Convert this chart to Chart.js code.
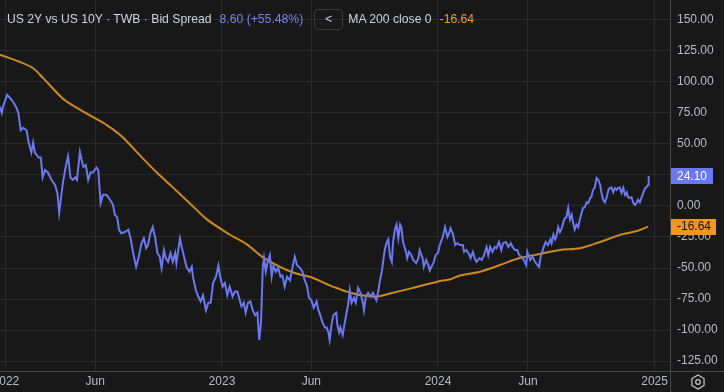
<!DOCTYPE html>
<html>
<head>
<meta charset="utf-8">
<script src="https://cdn.jsdelivr.net/npm/chart.js@4.4.1/dist/chart.umd.min.js"></script>
<style>
  html, body { margin: 0; padding: 0; background: #181818; }
  #wrap { position: relative; width: 724px; height: 392px; }
  #hdr {
    position: absolute; left: 7px; top: 9px; height: 21px; line-height: 21px;
    font-family: "Liberation Sans", Arial, sans-serif; font-size: 12.2px; color: #d1d4dc;
    white-space: nowrap; pointer-events: none;
  }
  #hdr span { display: inline-block; vertical-align: top; }
  #hdr .b { color: #7c84f0; margin-left: 8px; }
  #hdr .btn {
    margin-left: 11px; width: 27px; height: 19px; line-height: 19px; text-align: center;
    border: 1px solid #3a3a3a; border-radius: 4px; color: #d1d4dc; font-size: 12px;
  }
  #hdr .m { margin-left: 5px; }
  #hdr .o { color: #f39c2b; margin-left: 8px; }
</style>
</head>
<body>
<div id="wrap">
  <canvas id="spread_chart" width="724" height="392"></canvas>
  <div id="hdr"><span>US 2Y vs US 10Y · TWB · Bid Spread</span><span class="b">8.60 (+55.48%)</span><span class="btn">&lt;</span><span class="m">MA 200 close 0</span><span class="o">-16.64</span></div>
</div>
<script>
// x values are days counted from 2022-01-01
var tickDays = [0, 151, 365, 516, 730, 882, 1096];
var tickLabels = ["2022", "Jun", "2023", "Jun", "2024", "Jun", "2025"];
var yTicks = [-125, -100, -75, -50, -25, 0, 25, 50, 75, 100, 125, 150];

// spread (bp)
var spreadDays = [
  -10,-7,-5,2,7,12,18,21,25,29,35,38,43,46,49,55,59,62,66,71,77,83,87,90,92,97,
  101,105,109,113,117,120,125,128,131,135,139,143,147,153,156,160,164,170,176,181,184,188,191,195,
  201,207,211,215,220,224,229,233,237,240,244,248,252,256,260,263,267,270,274,278,282,286,288,294,297,
  301,305,310,314,316,321,325,329,333,338,342,346,350,355,359,362,366,370,374,378,383,387,391,394,398,
  402,405,409,413,417,421,425,428,431,434,436,439,443,446,449,452,456,460,464,467,471,475,480,484,488,492,497,
  501,505,509,512,516,520,525,528,531,535,539,542,545,547,550,553,558,560,563,565,569,571,574,578,581,584,588,591,595,599,
  603,605,608,612,616,620,623,626,629,632,635,637,640,643,646,649,652,654,657,660,663,666,668,671,676,678,681,685,688,693,697,699,
  704,706,710,714,716,719,723,726,730,733,738,742,746,749,751,755,759,763,767,772,774,778,783,785,789,792,795,
  800,804,808,812,815,818,822,826,829,833,837,840,845,849,853,856,860,864,867,871,875,879,881,884,886,890,894,898,
  901,903,908,912,916,920,922,925,928,930,933,936,939,942,944,947,950,953,956,958,961,964,967,970,973,975,978,981,984,987,989,992,995,998,
  1001,1004,1006,1009,1012,1015,1018,1020,1023,1026,1029,1032,1034,1037,1040,1043,1046,1049,1051,1054,1057,1060,1063,1066,1068,
  1071,1074,1077,1080,1082,1085,1086
];
var spreadVals = [
  80,75,80,89.5,87,84,79,75,61,63,61,52,43,51,43,39,39,23,29,27,21,17,10.5,-5.6,2.4,21,
  31.5,40,23,21,23,21,43.5,37,31.5,33,21,27,27,31,29,2.4,9,9,5,1,-7,-9,-19,-22,
  -21,-19,-27,-38,-49,-42,-30,-26,-34,-31.5,-22,-17,-25,-38,-41,-50,-35.5,-42,-45,-38,-45,-38,-46,-26,-33,
  -41,-49,-53,-49,-57,-68,-73,-77,-72,-84,-78,-78,-62,-57,-48,-57,-65,-62,-72,-65,-73,-69,-69,-74,-81,
  -78,-86,-78,-77,-84,-88,-86,-108,-94,-49,-42,-53,-43.5,-39.5,-57,-48,-53,-50,-57,-56,-65,-57,-60,-50,-41,-48,-50,
  -53,-60,-65,-74,-76,-82,-77,-84,-88,-94,-98,-98,-102,-108,-96,-88,-86,-96,-102,-98,-104,-98,-90,-80,-68,-78,-74,-78,-66,-70,
  -78,-84,-73,-70,-73,-70,-73,-76,-69,-60,-53,-46,-35.5,-30,-27,-41,-45,-30,-19,-15,-26,-15,-17,-29,-37,-42,-37,-39.5,-43.5,-46,-42,-35.5,
  -42,-49,-43.5,-48,-52,-49,-45,-39.5,-38,-31.5,-25,-17,-25,-22,-18,-22,-31.5,-30,-31.5,-31.5,-37,-35.5,-39.5,-42,-37,-42,-45,
  -42,-43.5,-39.5,-33,-39.5,-33,-37,-33,-34,-29,-35.5,-30,-29,-33,-30,-33,-35.5,-35.5,-39.5,-41,-43.5,-47.6,-37,-41,-43.5,-41,-45,-47.6,
  -49,-42,-34,-29,-31.5,-27,-30,-23,-27,-25,-17,-21,-18,-13,-10,-9,-1.6,-11,-7,-13,-19,-15,-17,-10,-5,-1.6,-1,3,2.4,6.5,7,13,15,22.6,
  21,17,11,5,3,7,13,14.5,15,11,14.5,13,14.5,15,10.5,14.5,9,11,7,6.5,7,2.4,0.8,3,5,
  3,7,10.5,14.5,15,17,24.1
];

// MA 200 close
var maDays = [-10,24,46,63,95,113,142,171,196,226,255,282,311,340,378,407,433,463,488,519,547,564,576,601,627,654,688,729,751,767,801,835,868,902,936,970,1004,1037,1066,1085];
var maVals = [122,116,111,103,87,81,73,65,56,41,27,15,2,-11,-23,-31,-41,-49,-54,-58,-64,-67,-69,-72,-73,-70,-66,-61,-59,-56,-53,-47.6,-42,-38.7,-35.5,-34,-29,-23.4,-20.2,-16.64];

var lastSpread = "24.10";
var lastMa = "-16.64";

function toPoints(xs, ys) {
  var pts = [];
  for (var i = 0; i < xs.length; i++) pts.push({x: xs[i], y: ys[i]});
  return pts;
}

var BG = "#181818";
var GRID = "#2a2a2a";
var SEP = "#4a4a4a";
var TXT = "#b9bbc2";
var BLUE = "#6b78f2";
var MA_COL = "#cc8a22";
var TAG_ORANGE = "#f5951c";

// x labels, separators, price tags and the settings icon
var decorPlugin = {
  id: "decor",
  beforeDraw: function(chart) {
    var c = chart.ctx;
    c.save();
    c.fillStyle = BG;
    c.fillRect(0, 0, chart.width, chart.height);
    c.restore();
  },
  afterDraw: function(chart) {
    var c = chart.ctx, area = chart.chartArea;
    var xs = chart.scales.x, ys = chart.scales.y;
    c.save();
    // separators
    c.strokeStyle = SEP;
    c.lineWidth = 1;
    c.beginPath();
    c.moveTo(0, Math.round(area.bottom) + 0.5);
    c.lineTo(chart.width, Math.round(area.bottom) + 0.5);
    c.moveTo(Math.round(area.right) + 0.5, 0);
    c.lineTo(Math.round(area.right) + 0.5, chart.height);
    c.stroke();
    // time labels
    c.font = "12px 'Liberation Sans', Arial, sans-serif";
    c.fillStyle = TXT;
    c.textAlign = "center";
    c.textBaseline = "middle";
    for (var i = 0; i < tickDays.length; i++) {
      c.fillText(tickLabels[i], xs.getPixelForValue(tickDays[i]), area.bottom + 11);
    }
    // price tags
    function tag(val, txt, bg, fg, w) {
      var y = ys.getPixelForValue(val);
      c.fillStyle = bg;
      c.fillRect(area.right + 1, Math.round(y - 8), w, 16);
      c.fillStyle = fg;
      c.textAlign = "left";
      c.fillText(txt, area.right + 7, y + 0.5);
    }
    tag(parseFloat(lastMa), lastMa, TAG_ORANGE, "#151515", 45);
    tag(parseFloat(lastSpread), lastSpread, BLUE, "#ffffff", 42);
    // settings icon
    var cx = area.right + 28, cy = area.bottom + 11;
    c.strokeStyle = "#c8c8c8";
    c.lineWidth = 1.2;
    c.beginPath();
    for (var k = 0; k < 6; k++) {
      var a = Math.PI / 3 * k + Math.PI / 6;
      var px = cx + 7 * Math.cos(a), py = cy + 7 * Math.sin(a);
      if (k === 0) c.moveTo(px, py); else c.lineTo(px, py);
    }
    c.closePath();
    c.stroke();
    c.beginPath();
    c.arc(cx, cy, 2.3, 0, Math.PI * 2);
    c.stroke();
    c.restore();
  }
};

var ctx = document.getElementById("spread_chart");
var chart = new Chart(ctx, {
  type: "line",
  data: {
    datasets: [
      {
        label: "US 2Y vs US 10Y",
        data: toPoints(spreadDays, spreadVals),
        borderColor: BLUE,
        borderWidth: 2,
        pointRadius: 0,
        tension: 0,
        fill: false
      },
      {
        label: "MA 200 close 0",
        data: toPoints(maDays, maVals),
        borderColor: MA_COL,
        borderWidth: 2,
        pointRadius: 0,
        tension: 0.3,
        fill: false
      }
    ]
  },
  options: {
    responsive: false,
    animation: false,
    layout: { padding: 0 },
    plugins: {
      legend: { display: false },
      tooltip: { enabled: false }
    },
    scales: {
      x: {
        type: "linear",
        min: -10,
        max: 1122,
        afterBuildTicks: function(scale) {
          scale.ticks = tickDays.map(function(d) { return {value: d}; });
        },
        afterFit: function(scale) {
          scale.height = 21;
          scale.paddingLeft = 0; scale.paddingRight = 0;
        },
        ticks: { display: false },
        grid: { color: GRID, drawTicks: false },
        border: { display: false }
      },
      y: {
        position: "right",
        min: -133,
        max: 166,
        afterBuildTicks: function(scale) {
          scale.ticks = yTicks.map(function(v) { return {value: v}; });
        },
        afterFit: function(scale) {
          scale.width = 54;
          scale.paddingTop = 0; scale.paddingBottom = 0;
        },
        ticks: {
          color: TXT,
          padding: 7,
          font: { family: "'Liberation Sans', Arial, sans-serif", size: 12 },
          callback: function(v) { return Number(v).toFixed(2); }
        },
        grid: { color: GRID, drawTicks: false },
        border: { display: false }
      }
    }
  },
  plugins: [decorPlugin]
});
</script>
</body>
</html>
